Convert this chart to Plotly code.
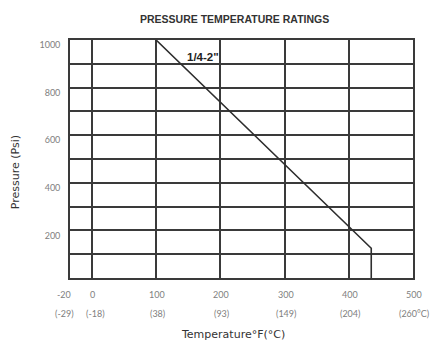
import plotly.graph_objects as go

# ---- data ----
temp_f = [100, 435, 435]            # rating curve (°F)
pressure_psi = [1000, 125, 0]       # rating curve (psi)
series_label = '1/4-2"'

f_grid = [0, 100, 200, 300, 400, 500]
f_labels = ["-20", "0", "100", "200", "300", "400", "500"]
c_labels = ["(-29)", "(-18)", "(38)", "(93)", "(149)", "(204)", "(260°C)"]
x_range = [-34, 500]                # axis is broken between -20 and 0

y_grid = list(range(0, 1001, 100))
y_labels = ["", "", "200", "", "400", "", "600", "", "800", "", "1000"]

LINE = "#2e2e2e"
GRID = "#3a3a3a"
TICK = "#808080"
FONT = "Lato, Liberation Sans, sans-serif"

fig = go.Figure()
fig.add_trace(go.Scatter(
    x=temp_f, y=pressure_psi, mode="lines",
    line=dict(color=LINE, width=1.6), showlegend=False, hoverinfo="skip",
))

fig.update_layout(
    width=438, height=340,
    margin=dict(l=70, r=25, t=40, b=62),
    paper_bgcolor="white", plot_bgcolor="white",
    font=dict(family=FONT, color=TICK, size=9),
    title=dict(
        text="<b>PRESSURE TEMPERATURE RATINGS</b>",
        x=0.48, xref="paper", xanchor="center",
        y=1 - 19 / 340, yref="container", yanchor="middle",
        font=dict(family="Liberation Sans Narrow, Liberation Sans, sans-serif", size=10.5, color="#333333"),
    ),
    xaxis=dict(
        range=x_range, tickvals=f_grid, showticklabels=False, ticks="",
        showgrid=True, gridcolor=GRID, gridwidth=1.7,
        showline=True, linecolor=GRID, linewidth=1.7, mirror=True, zeroline=False,
    ),
    yaxis=dict(
        range=[0, 1000], tickvals=y_grid, ticktext=y_labels, ticks="",
        ticklabelshift=5, ticklabelstandoff=6,
        tickfont=dict(size=9, color=TICK),
        showgrid=True, gridcolor=GRID, gridwidth=1.7,
        showline=True, linecolor=GRID, linewidth=1.7, mirror=True, zeroline=False,
    ),
)

# x tick labels, two rows (°F and °C)
label_x = [x_range[0]] + f_grid
for i, (xv, fl, cl) in enumerate(zip(label_x, f_labels, c_labels)):
    xs = -6 if i == 0 else 1
    fig.add_annotation(x=xv, xref="x", y=0, yref="paper", yshift=-16, xshift=xs,
                       text=fl, showarrow=False, yanchor="middle",
                       font=dict(size=9, color=TICK))
    fig.add_annotation(x=xv, xref="x", y=0, yref="paper", yshift=-35, xshift=xs + (3 if i == 1 else 0),
                       text=cl, showarrow=False, yanchor="middle",
                       font=dict(size=9, color=TICK))

# series label
fig.add_annotation(x=173, y=930, xref="x", yref="y", text="<b>" + series_label + "</b>", showarrow=False,
                   font=dict(size=11.5, color="#222222", family="Liberation Sans, sans-serif"))

# axis titles
fig.add_annotation(x=0.475, xref="paper", y=0, yref="paper", yshift=-56,
                   text="Temperature°F(°C)", showarrow=False, yanchor="middle",
                   font=dict(size=11, color="#333333", family="DejaVu Sans, sans-serif"))
fig.add_annotation(x=-0.16, xref="paper", y=0.445, yref="paper", textangle=-90,
                   text="Pressure (Psi)", showarrow=False, xanchor="center", yanchor="middle",
                   font=dict(size=11, color="#333333", family="DejaVu Sans, sans-serif"))

fig.write_html("out.html", config={"displayModeBar": False},
               post_script="document.body.style.margin='0';document.body.style.padding='0';")
